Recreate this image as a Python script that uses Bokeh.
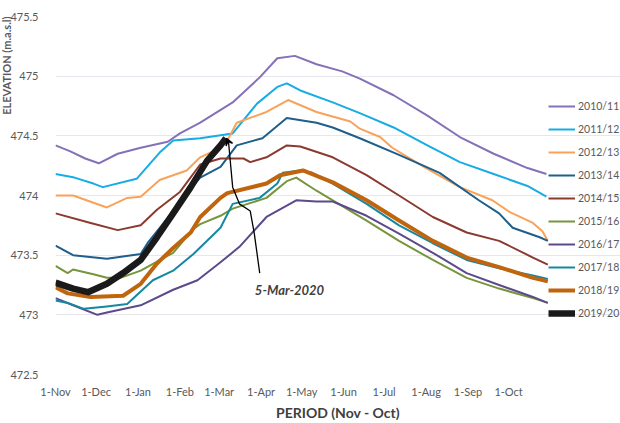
from bokeh.plotting import figure
from bokeh.models import Range1d, Legend, LegendItem, Label, Arrow, VeeHead, FixedTicker, Title
from bokeh.embed import file_html
from bokeh.resources import INLINE

# ---- data: day of season (0 = 1-Nov) and elevation (m.a.s.l) ----
month_labels = ["1-Nov", "1-Dec", "1-Jan", "1-Feb", "1-Mar", "1-Apr", "1-May",
                "1-Jun", "1-Jul", "1-Aug", "1-Sep", "1-Oct"]
month_days = [0, 30, 61, 92, 121, 152, 182, 213, 243, 274, 305, 335]
season_length = 366
y_ticks = [472.5, 473, 473.5, 474, 474.5, 475, 475.5]
y_tick_labels = ["472.5", "473", "473.5", "474", "474.5", "475", "475.5"]

d_1011 = [0, 11, 22, 32, 46, 63, 83, 92, 107, 131, 151, 164, 177, 193, 212, 225, 250, 275, 299, 324, 349, 363]
v_1011 = [474.42, 474.37, 474.31, 474.27, 474.35, 474.40, 474.45, 474.52, 474.61, 474.78, 474.99, 475.15,
          475.17, 475.10, 475.04, 474.98, 474.84, 474.67, 474.49, 474.35, 474.23, 474.18]

d_1112 = [0, 14, 28, 35, 60, 77, 87, 107, 131, 149, 164, 171, 181, 205, 225, 250, 275, 299, 324, 349, 363]
v_1112 = [474.18, 474.15, 474.10, 474.07, 474.14, 474.36, 474.46, 474.48, 474.52, 474.77, 474.91, 474.94,
          474.88, 474.78, 474.69, 474.57, 474.42, 474.28, 474.18, 474.08, 473.99]

d_1213 = [0, 13, 38, 53, 63, 77, 97, 107, 122, 127, 134, 156, 172, 193, 218, 225, 240, 249, 274, 299, 323, 336, 353, 360, 364]
v_1213 = [474.00, 474.00, 473.90, 473.98, 473.99, 474.13, 474.21, 474.32, 474.40, 474.46, 474.61, 474.70,
          474.80, 474.70, 474.62, 474.56, 474.49, 474.40, 474.23, 474.07, 473.96, 473.86, 473.77, 473.70, 473.62]

d_1314 = [0, 13, 38, 63, 68, 87, 100, 107, 122, 134, 153, 171, 193, 205, 225, 254, 284, 313, 328, 338, 358, 364]
v_1314 = [473.58, 473.50, 473.47, 473.51, 473.60, 473.87, 474.06, 474.15, 474.24, 474.42, 474.48, 474.65,
          474.61, 474.57, 474.48, 474.34, 474.19, 473.96, 473.85, 473.73, 473.65, 473.62]

d_1415 = [0, 26, 46, 63, 75, 92, 107, 122, 139, 144, 156, 171, 181, 205, 230, 254, 279, 304, 328, 353, 364]
v_1415 = [473.85, 473.77, 473.71, 473.75, 473.88, 474.03, 474.26, 474.31, 474.31, 474.28, 474.32, 474.42,
          474.41, 474.32, 474.17, 474.00, 473.82, 473.69, 473.62, 473.48, 473.42]

d_1516 = [0, 9, 13, 28, 38, 48, 63, 87, 102, 107, 122, 131, 156, 171, 178, 193, 205, 230, 254, 279, 304, 328, 353, 364]
v_1516 = [473.41, 473.35, 473.38, 473.34, 473.31, 473.31, 473.37, 473.52, 473.72, 473.76, 473.83, 473.89,
          473.98, 474.12, 474.15, 474.04, 473.96, 473.79, 473.62, 473.46, 473.31, 473.22, 473.14, 473.10]

d_1617 = [0, 13, 31, 38, 63, 87, 105, 122, 136, 156, 178, 193, 205, 230, 254, 279, 304, 328, 353, 364]
v_1617 = [473.14, 473.08, 473.00, 473.02, 473.08, 473.21, 473.29, 473.44, 473.57, 473.82, 473.96, 473.95,
          473.95, 473.83, 473.68, 473.52, 473.35, 473.25, 473.15, 473.10]

d_1718 = [0, 9, 21, 38, 53, 72, 87, 102, 122, 131, 151, 164, 168, 181, 190, 205, 230, 254, 279, 304, 328, 353, 364]
v_1718 = [473.12, 473.10, 473.05, 473.07, 473.09, 473.29, 473.37, 473.51, 473.73, 473.93, 473.98, 474.10,
          474.19, 474.21, 474.19, 474.10, 473.93, 473.75, 473.60, 473.46, 473.39, 473.33, 473.30]

d_1819 = [0, 9, 26, 50, 63, 75, 87, 100, 107, 122, 127, 156, 166, 183, 205, 230, 254, 279, 304, 328, 353, 364]
v_1819 = [473.23, 473.18, 473.15, 473.16, 473.26, 473.43, 473.56, 473.69, 473.82, 473.98, 474.02, 474.10,
          474.17, 474.21, 474.11, 473.96, 473.79, 473.62, 473.48, 473.40, 473.31, 473.28]

d_1920 = [0, 13, 24, 38, 50, 63, 75, 87, 100, 112, 122, 126]
v_1920 = [473.27, 473.22, 473.19, 473.26, 473.35, 473.46, 473.65, 473.85, 474.07, 474.29, 474.42, 474.48]

season_names = ["2010/11", "2011/12", "2012/13", "2013/14", "2014/15", "2015/16",
                "2016/17", "2017/18", "2018/19", "2019/20"]
season_days = [d_1011, d_1112, d_1213, d_1314, d_1415, d_1516, d_1617, d_1718, d_1819, d_1920]
season_vals = [v_1011, v_1112, v_1213, v_1314, v_1415, v_1516, v_1617, v_1718, v_1819, v_1920]
season_colors = ["#8571B8", "#18ACE4", "#F9A25A", "#1F5F8B", "#8B3A2F", "#77953D",
                 "#5C4A8A", "#15889F", "#C0650E", "#1A1A1A"]
season_widths = [2, 2, 2, 2, 2, 2, 2, 2, 4, 6.5]

# annotation path (day, elevation)
ann_days = [151, 147, 144, 136, 131, 128]
ann_vals = [473.35, 473.68, 473.87, 473.93, 474.07, 474.44]
ann_tip = (126.5, 474.48)
ann_text_pos = (173, 473.21)

FONT = "Lato"
GRAY = "#595959"

# plot area spans 55..620 px; the season (0..366 d) covers 55..550 px,
# the rest of the frame holds the legend
px_per_day = 495 / season_length
x_max = season_length + 70 / px_per_day

p = figure(width=620, height=423, output_backend="svg", toolbar_location=None,
           x_range=Range1d(0, x_max), y_range=Range1d(472.5, 475.5),
           min_border_left=55, min_border_right=0, min_border_top=16, min_border_bottom=49)
p.outline_line_color = None
p.background_fill_color = "white"
p.border_fill_color = "white"

items = []
for name, d, v, c, w in zip(season_names, season_days, season_vals, season_colors, season_widths):
    r = p.line(d, v, line_color=c, line_width=w, line_join="round")
    items.append(LegendItem(label=name, renderers=[r]))

# axes
p.xaxis.ticker = FixedTicker(ticks=month_days)
p.xaxis.major_label_overrides = {d: l for d, l in zip(month_days, month_labels)}
p.yaxis.ticker = FixedTicker(ticks=y_ticks)
p.yaxis.major_label_overrides = {t: l for t, l in zip(y_ticks, y_tick_labels)}
for ax in (p.xaxis, p.yaxis):
    ax.axis_line_color = None
    ax.major_tick_line_color = None
    ax.minor_tick_line_color = None
    ax.major_label_text_font = FONT
    ax.major_label_text_font_size = "11px"
    ax.major_label_text_color = GRAY
p.yaxis.major_label_standoff = 11
p.xaxis.major_label_standoff = 4
p.xaxis.axis_label = "PERIOD (Nov - Oct)"
p.xaxis.axis_label_text_font = FONT
p.xaxis.axis_label_text_font_style = "bold"
p.xaxis.axis_label_text_font_size = "14px"
p.xaxis.axis_label_text_color = "#404040"
p.xaxis.axis_label_standoff = 3

p.xgrid.grid_line_color = None
p.ygrid.grid_line_color = "#E6E6EC"
p.ygrid.grid_line_width = 1
p.ygrid.bounds = (0, season_length)

# y title placed near the top, as in the reference
p.add_layout(Title(text="ELEVATION (m.a.s.l)", align="right", text_font=FONT,
                   text_font_size="11px", text_font_style="bold", text_color=GRAY,
                   standoff=-10), "left")

# annotation
p.line(ann_days, ann_vals, line_color="black", line_width=1.3)
p.add_layout(Arrow(end=VeeHead(size=7, line_color="black", line_width=1.3),
                   x_start=ann_days[-1], y_start=ann_vals[-1], x_end=ann_tip[0], y_end=ann_tip[1],
                   line_color="black", line_width=1.3))
p.add_layout(Label(x=ann_text_pos[0], y=ann_text_pos[1], text="5-Mar-2020", text_align="center",
                   text_baseline="middle", text_font=FONT, text_font_size="13px",
                   text_font_style="bold italic", text_color="#404040"))

legend = Legend(items=items, location=(493, 51), orientation="vertical",
                glyph_width=27, glyph_height=20, label_height=20, spacing=3,
                label_standoff=3, padding=0, margin=0,
                label_text_font=FONT, label_text_font_size="10.5px", label_text_color=GRAY,
                border_line_color=None, background_fill_alpha=0)
p.add_layout(legend)

open("out.html", "w").write(file_html(p, INLINE))
